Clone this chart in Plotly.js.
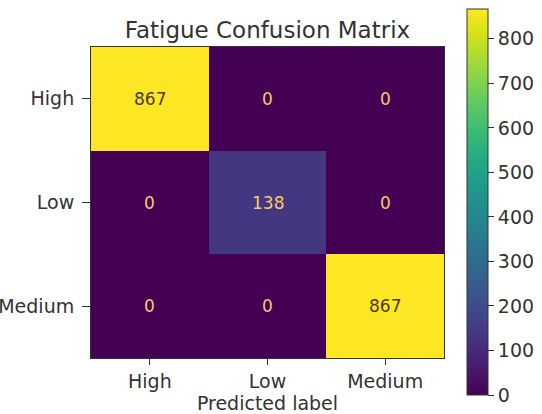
<!DOCTYPE html>
<html>
<head>
<meta charset="utf-8">
<script src="https://cdn.plot.ly/plotly-3.0.1.min.js"></script>
<style>html,body{margin:0;padding:0;background:#fff;}#chart{width:542px;height:414px;}</style>
</head>
<body>
<div id="chart"></div>
<script>
// Data
const categories = ['High', 'Low', 'Medium'];
const rowHigh = [867, 0, 0];
const rowLow = [0, 138, 0];
const rowMedium = [0, 0, 867];
const colorbarTicks = [0, 100, 200, 300, 400, 500, 600, 700, 800];
const chartTitle = 'Fatigue Confusion Matrix';
const xTitle = 'Predicted label';

const z = [rowHigh, rowLow, rowMedium];
const zmax = Math.max(...z.flat());
const font = 'DejaVu Sans, sans-serif';

const annotations = [];
z.forEach((row, i) => {
  row.forEach((v, j) => {
    annotations.push({
      x: categories[j], y: categories[i], xref: 'x', yref: 'y',
      text: String(v), showarrow: false,
      font: {family: font, size: 17, color: v > zmax / 2 ? '#4a3a1c' : '#f7c96a'}
    });
  });
});

const trace = {
  type: 'heatmap',
  x: categories, y: categories, z: z,
  colorscale: 'Viridis', zmin: 0, zmax: zmax,
  xgap: 0, ygap: 0,
  hoverinfo: 'skip',
  colorbar: {
    x: 467 / 542, xref: 'container', xanchor: 'left', xpad: 0,
    yref: 'paper', y: (358 - 202) / 311, yanchor: 'middle', ypad: 0,
    thickness: 21, thicknessmode: 'pixels',
    len: 386, lenmode: 'pixels',
    outlinewidth: 1, outlinecolor: '#333',
    tickmode: 'array', tickvals: colorbarTicks,
    ticks: 'outside', ticklen: 6, tickwidth: 1, tickcolor: '#333',
    tickfont: {family: font, size: 19, color: '#333'}
  }
};

const layout = {
  width: 542, height: 414,
  margin: {l: 91, r: 98, t: 47, b: 56},
  paper_bgcolor: '#fff', plot_bgcolor: '#fff',
  font: {family: font, color: '#333'},
  title: {
    text: chartTitle, font: {family: font, size: 23, color: '#333'},
    xref: 'paper', x: 0.5, xanchor: 'center',
    yref: 'container', y: 1 - 30 / 414, yanchor: 'middle'
  },
  xaxis: {
    type: 'category', categoryarray: categories,
    showline: true, mirror: true, linecolor: '#333', linewidth: 1,
    ticks: 'outside', ticklen: 6, tickcolor: '#333',
    tickfont: {family: font, size: 19, color: '#333'},
    showgrid: false, zeroline: false,
    title: {text: xTitle, font: {family: font, size: 19, color: '#333'}, standoff: 0}
  },
  yaxis: {
    type: 'category', categoryarray: categories, autorange: 'reversed',
    showline: true, mirror: true, linecolor: '#333', linewidth: 1,
    ticks: 'outside', ticklen: 8, tickcolor: '#333',
    ticklabelstandoff: 4,
    tickfont: {family: font, size: 19, color: '#333'},
    showgrid: false, zeroline: false
  },
  annotations: annotations
};

Plotly.newPlot('chart', [trace], layout, {staticPlot: true, displayModeBar: false});
</script>
</body>
</html>
